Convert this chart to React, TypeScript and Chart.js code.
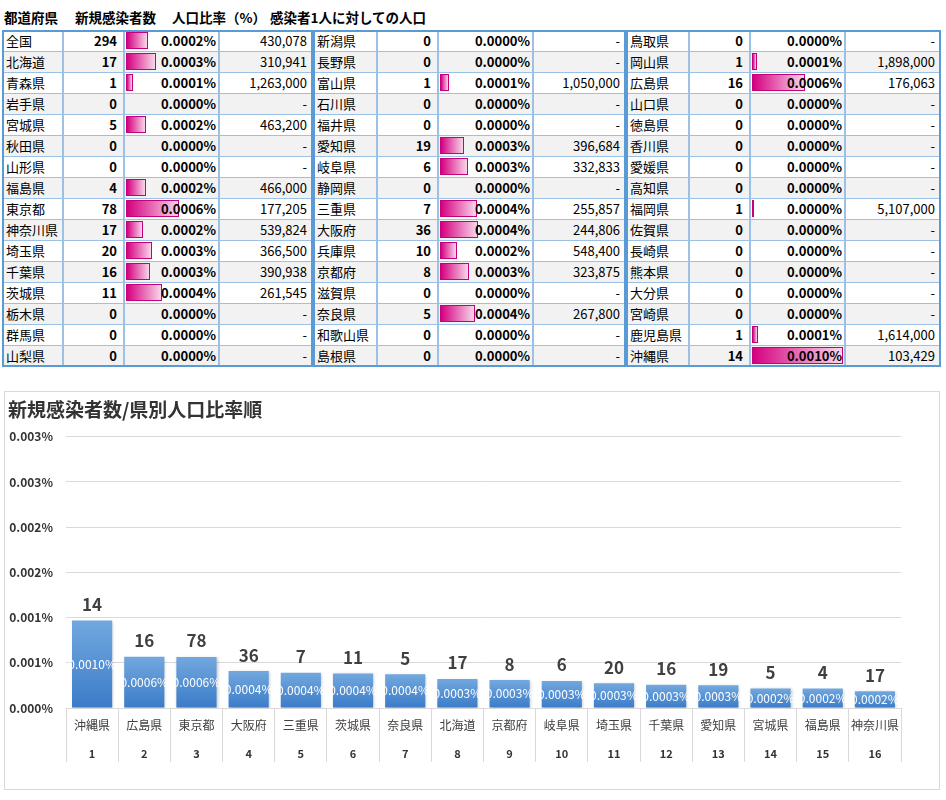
import React, { useEffect, useRef } from 'react';
import { Chart, registerables } from 'chart.js';

Chart.register(...registerables);

const FONT = '"Noto Sans CJK JP", "Noto Sans", sans-serif';
Chart.defaults.font.family = FONT;

// ---- 表データ（3ブロック × 16行） ----
const block1Names = ['全国', '北海道', '青森県', '岩手県', '宮城県', '秋田県', '山形県', '福島県', '東京都', '神奈川県', '埼玉県', '千葉県', '茨城県', '栃木県', '群馬県', '山梨県'];
const block1Cases = [294, 17, 1, 0, 5, 0, 0, 4, 78, 17, 20, 16, 11, 0, 0, 0];
const block1PerCase = [430078, 310941, 1263000, null, 463200, null, null, 466000, 177205, 539824, 366500, 390938, 261545, null, null, null];

const block2Names = ['新潟県', '長野県', '富山県', '石川県', '福井県', '愛知県', '岐阜県', '静岡県', '三重県', '大阪府', '兵庫県', '京都府', '滋賀県', '奈良県', '和歌山県', '島根県'];
const block2Cases = [0, 0, 1, 0, 0, 19, 6, 0, 7, 36, 10, 8, 0, 5, 0, 0];
const block2PerCase = [null, null, 1050000, null, null, 396684, 332833, null, 255857, 244806, 548400, 323875, null, 267800, null, null];

const block3Names = ['鳥取県', '岡山県', '広島県', '山口県', '徳島県', '香川県', '愛媛県', '高知県', '福岡県', '佐賀県', '長崎県', '熊本県', '大分県', '宮崎県', '鹿児島県', '沖縄県'];
const block3Cases = [0, 1, 16, 0, 0, 0, 0, 0, 1, 0, 0, 0, 0, 0, 1, 14];
const block3PerCase = [null, 1898000, 176063, null, null, null, null, null, 5107000, null, null, null, null, null, 1614000, 103429];

// ---- グラフデータ（人口比率順） ----
const rankPrefs = ['沖縄県', '広島県', '東京都', '大阪府', '三重県', '茨城県', '奈良県', '北海道', '京都府', '岐阜県', '埼玉県', '千葉県', '愛知県', '宮城県', '福島県', '神奈川県'];
const rankCases = [14, 16, 78, 36, 7, 11, 5, 17, 8, 6, 20, 16, 19, 5, 4, 17];
const rankRatios = [0.000967, 0.000568, 0.000564, 0.000408, 0.000391, 0.000382, 0.000373, 0.000322, 0.000309, 0.0003, 0.000273, 0.000256, 0.000252, 0.000216, 0.000215, 0.000185];
const rankNumbers = ['1', '2', '3', '4', '5', '6', '7', '8', '9', '10', '11', '12', '13', '14', '15', '16'];

const TABLE_TOP = 30;
const ROW_H = 21;
const blockCols = [
  [2, 63, 124, 219, 313],
  [313, 377, 438, 533, 626],
  [626, 689, 750, 845, 941],
];

const ratioOf = (p: number | null) => (p ? 100 / p : 0);
const maxRatio = Math.max(...[...block1PerCase, ...block2PerCase, ...block3PerCase].map(ratioOf));

interface BlockProps {
  cols: number[];
  names: string[];
  cases: number[];
  perCase: (number | null)[];
}

function TableBlock({ cols, names, cases, perCase }: BlockProps) {
  const left = cols[0];
  const width = cols[4] - cols[0];
  const lineColor = '#9bc2e6';

  return (
    <div style={{ position: 'absolute', left, top: TABLE_TOP, width, height: ROW_H * names.length + 1 }}>
      {names.map((name, r) => {
        const ratio = ratioOf(perCase[r]);
        const bg = r % 2 === 1 ? '#f2f2f2' : '#ffffff';
        const cell = (c: number, content: React.ReactNode, style: React.CSSProperties = {}) => (
          <div
            key={c}
            style={{
              position: 'absolute',
              left: cols[c] - left,
              top: r * ROW_H,
              width: cols[c + 1] - cols[c],
              height: ROW_H + 1,
              boxSizing: 'border-box',
              border: `1px solid ${lineColor}`,
              background: bg,
              lineHeight: `${ROW_H - 1}px`,
              fontSize: 13,
              whiteSpace: 'nowrap',
              overflow: 'hidden',
              ...style,
            }}
          >
            {content}
          </div>
        );
        const barW = ratio > 0 ? Math.max(2, ((cols[3] - cols[2] - 4) * ratio) / maxRatio) : 0;
        return (
          <React.Fragment key={name}>
            {cell(0, name, { paddingLeft: 3 })}
            {cell(1, cases[r], { textAlign: 'right', paddingRight: 6, fontWeight: 'bold' })}
            {cell(
              2,
              <>
                {barW > 0 && (
                  <div
                    style={{
                      position: 'absolute',
                      left: 1,
                      top: 1,
                      width: barW,
                      height: 17,
                      boxSizing: 'border-box',
                      border: '1px solid #c4007a',
                      background: 'linear-gradient(90deg, #d5007f 0%, #f9d6ea 100%)',
                    }}
                  />
                )}
                <span style={{ position: 'relative' }}>{ratio.toFixed(4)}%</span>
              </>,
              { textAlign: 'right', paddingRight: 2, fontWeight: 'bold' }
            )}
            {cell(3, perCase[r] ? (perCase[r] as number).toLocaleString('en-US') : '-', { textAlign: 'right', paddingRight: 5 })}
          </React.Fragment>
        );
      })}
      <div style={{ position: 'absolute', inset: 0, border: '2px solid #5b9bd5', pointerEvents: 'none' }} />
    </div>
  );
}

// 棒の影
const barShadow = {
  id: 'barShadow',
  beforeDatasetsDraw(chart: Chart) {
    const { ctx } = chart;
    ctx.save();
    ctx.shadowColor = 'rgba(0, 0, 0, 0.22)';
    ctx.shadowBlur = 3;
    ctx.shadowOffsetX = 1;
    ctx.shadowOffsetY = 1;
  },
  afterDatasetsDraw(chart: Chart) {
    chart.ctx.restore();
  },
};

// 棒の上の件数・棒の中の比率・順位の行
const barLabels = {
  id: 'barLabels',
  afterDatasetsDraw(chart: Chart) {
    const { ctx } = chart;
    const meta = chart.getDatasetMeta(0);
    ctx.save();
    ctx.textAlign = 'center';
    ctx.textBaseline = 'middle';
    meta.data.forEach((bar: any, i: number) => {
      const { x, y, base } = bar.getProps(['x', 'y', 'base'], true);
      ctx.font = `bold 17px ${FONT}`;
      ctx.fillStyle = '#404040';
      ctx.fillText(String(rankCases[i]), x, y - 16);
      ctx.font = `12px ${FONT}`;
      ctx.fillStyle = '#ffffff';
      ctx.fillText(rankRatios[i].toFixed(4) + '%', x, (y + base) / 2);
    });
    const xs = chart.scales.x;
    ctx.font = `bold 11px ${FONT}`;
    ctx.fillStyle = '#333333';
    rankNumbers.forEach((n, i) => ctx.fillText(n, xs.getPixelForValue(i), xs.top + 46));
    ctx.restore();
  },
};

function RankChart() {
  const canvasRef = useRef<HTMLCanvasElement>(null);

  useEffect(() => {
    if (!canvasRef.current) return;
    const chart = new Chart(canvasRef.current, {
      type: 'bar',
      data: {
        labels: rankPrefs,
        datasets: [
          {
            data: rankRatios,
            barPercentage: 0.77,
            categoryPercentage: 1,
            backgroundColor: (c: any) => {
              const area = c.chart.chartArea;
              if (!area || c.dataIndex === undefined) return '#5b9bd5';
              const top = c.chart.scales.y.getPixelForValue(rankRatios[c.dataIndex]);
              const g = c.chart.ctx.createLinearGradient(0, top, 0, area.bottom);
              g.addColorStop(0, '#72a8de');
              g.addColorStop(1, '#3b7cc8');
              return g;
            },
          },
        ],
      },
      options: {
        animation: false,
        responsive: true,
        maintainAspectRatio: false,
        layout: { padding: { left: 3, right: 38, top: 4, bottom: 27 } },
        plugins: {
          legend: { display: false },
          tooltip: { enabled: false },
          title: {
            display: true,
            text: '新規感染者数/県別人口比率順',
            align: 'start',
            color: '#333333',
            font: { size: 19, weight: 'bold' },
            padding: { top: 2, bottom: 16 },
          },
        },
        scales: {
          x: {
            grid: { drawOnChartArea: false, tickLength: 54, color: '#d9d9d9', offset: true },
            border: { color: '#d9d9d9' },
            ticks: { padding: -44, color: '#404040', font: { size: 12 }, autoSkip: false, maxRotation: 0 },
            afterFit: (s: any) => {
              s.height = 54;
            },
          },
          y: {
            min: 0,
            max: 0.003,
            grid: { color: '#d9d9d9', drawTicks: false },
            border: { display: false },
            ticks: {
              stepSize: 0.0005,
              padding: 13,
              color: '#333333',
              font: { size: 12, weight: 'bold' },
              callback: (v: any) => {
                const r = Math.round(Number(v) * 1e4) / 1e4;
                return (r + 1e-9).toFixed(3) + '%';
              },
            },
            afterFit: (s: any) => {
              s.width = 58;
            },
          },
        },
      },
      plugins: [barShadow, barLabels],
    });
    return () => chart.destroy();
  }, []);

  return (
    <div style={{ position: 'relative', width: 934, height: 397 }}>
      <canvas ref={canvasRef} />
    </div>
  );
}

const headers: [string, number][] = [
  ['都道府県', 4],
  ['新規感染者数', 75],
  ['人口比率（%）', 172],
  ['感染者1人に対しての人口', 270],
];

export default function App() {
  return (
    <div
      style={{
        position: 'absolute',
        left: 0,
        top: 0,
        width: 946,
        height: 800,
        background: '#ffffff',
        fontFamily: FONT,
        color: '#000000',
      }}
    >
      {headers.map(([text, x]) => (
        <div
          key={text}
          style={{ position: 'absolute', left: x, top: 7, fontSize: 13.5, fontWeight: 'bold', lineHeight: '20px', whiteSpace: 'nowrap' }}
        >
          {text}
        </div>
      ))}
      <TableBlock cols={blockCols[0]} names={block1Names} cases={block1Cases} perCase={block1PerCase} />
      <TableBlock cols={blockCols[1]} names={block2Names} cases={block2Cases} perCase={block2PerCase} />
      <TableBlock cols={blockCols[2]} names={block3Names} cases={block3Cases} perCase={block3PerCase} />
      <div
        style={{
          position: 'absolute',
          left: 4,
          top: 391,
          width: 936,
          height: 399,
          boxSizing: 'border-box',
          border: '1px solid #d9d9d9',
        }}
      >
        <RankChart />
      </div>
    </div>
  );
}
